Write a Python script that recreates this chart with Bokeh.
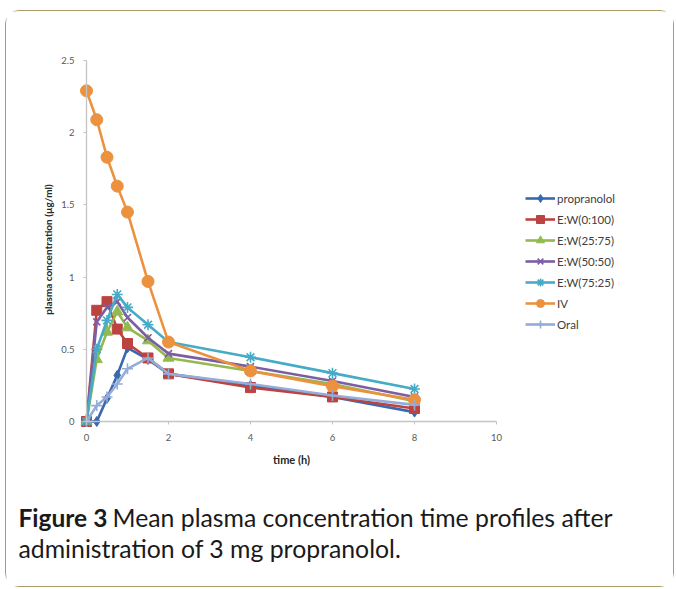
from bokeh.plotting import figure
from bokeh.models import Range1d, Legend, LegendItem, Label, FixedTicker
from bokeh.embed import file_html
from bokeh.resources import INLINE

# ---- data ----
time_h = [0, 0.25, 0.5, 0.75, 1, 1.5, 2, 4, 6, 8]
propranolol = [0, 0, 0.16, 0.32, 0.51, 0.43, 0.33, 0.25, 0.17, 0.065]
ew_0_100 = [0, 0.77, 0.83, 0.64, 0.54, 0.44, 0.33, 0.235, 0.17, 0.09]
ew_25_75 = [0, 0.43, 0.62, 0.76, 0.65, 0.56, 0.44, 0.35, 0.26, 0.14]
ew_50_50 = [0, 0.69, 0.79, 0.83, 0.72, 0.58, 0.47, 0.38, 0.28, 0.17]
ew_75_25 = [0, 0.50, 0.70, 0.88, 0.79, 0.67, 0.55, 0.445, 0.335, 0.225]
iv = [2.29, 2.09, 1.83, 1.63, 1.45, 0.97, 0.55, 0.35, 0.245, 0.15]
oral = [0, 0.11, 0.17, 0.26, 0.365, 0.44, 0.33, 0.26, 0.18, 0.115]

series_names = ["propranolol", "E:W(0:100)", "E:W(25:75)", "E:W(50:50)",
                "E:W(75:25)", "IV", "Oral"]
series_values = [propranolol, ew_0_100, ew_25_75, ew_50_50, ew_75_25, iv, oral]

x_ticks = [0, 2, 4, 6, 8, 10]
y_ticks = [0, 0.5, 1, 1.5, 2, 2.5]
y_tick_labels = ["0", "0.5", "1", "1.5", "2", "2.5"]

x_title = "time (h)"
y_title = "plasma concentration (\u00b5g/ml)"
caption_bold = "Figure 3"
caption_line1 = "Mean plasma concentration time profiles after"
caption_line2 = "administration of 3 mg propranolol."

# ---- styles ----
colors = ["#3a68b0", "#bd4340", "#93b94f", "#7b5ea3", "#45abc6", "#ec923f", "#94acd8"]
markers = ["diamond", "square", "triangle", "x", "asterisk", "circle", "cross"]
msizes = [10, 10, 11, 10, 11, 12, 11]
FONT = "Lato"

# canvas placed at page (6, 11); frame covers the whole canvas
OX, OY = 6, 11
W, H = 669, 577
PX_PER_X, PX_PER_Y = 41.0, 144.4
X0_PAGE, Y0_PAGE = 86.0, 421.0
x_start = (OX - X0_PAGE) / PX_PER_X
x_end = (OX + W - X0_PAGE) / PX_PER_X
y_end = (Y0_PAGE - OY) / PX_PER_Y
y_start = (Y0_PAGE - (OY + H)) / PX_PER_Y


def sx(page_x):
    return page_x - OX


def sy(page_y):
    return OY + H - page_y


p = figure(width=W, height=H, output_backend="svg", toolbar_location=None,
           x_range=Range1d(x_start, x_end), y_range=Range1d(y_start, y_end),
           min_border=0, background_fill_color="white", border_fill_color="white")
p.outline_line_color = None
p.grid.visible = False
p.styles = {"border": "1px solid #a99b6c", "border-radius": "14px",
            "margin-left": "5px", "margin-top": "10px"}

for ax in (p.xaxis[0], p.yaxis[0]):
    ax.fixed_location = 0
    ax.axis_line_color = "#c4c4c4"
    ax.axis_line_width = 1.3
    ax.major_tick_line_color = "#c4c4c4"
    ax.major_tick_out = 3
    ax.major_tick_in = 0
    ax.minor_tick_line_color = None
    ax.major_label_text_font = FONT
    ax.major_label_text_font_size = "9.5px"
    ax.major_label_text_color = "#595959"
    ax.major_label_standoff = 9

p.xaxis.bounds = (0, 10)
p.yaxis.bounds = (0, 2.5)
p.xaxis.ticker = FixedTicker(ticks=x_ticks)
p.yaxis.ticker = FixedTicker(ticks=y_ticks)
p.yaxis.major_label_overrides = {t: s for t, s in zip(y_ticks, y_tick_labels)}

items = []
for name, vals, col, mk, ms in zip(series_names, series_values, colors, markers, msizes):
    lr = p.line(time_h, vals, line_color=col, line_width=2.6)
    sr = p.scatter(time_h, vals, marker=mk, size=ms, fill_color=col,
                   line_color=col, line_width=1.6 if mk in ("x", "asterisk", "cross") else 1)
    items.append(LegendItem(label=name, renderers=[lr, sr]))

legend = Legend(items=items, location=(sx(525), sy(334)), glyph_width=30, glyph_height=20,
                label_height=20, spacing=1, padding=0, margin=0, label_standoff=2,
                label_text_font=FONT, label_text_font_size="11.5px",
                label_text_color="#404040", background_fill_alpha=0,
                border_line_color=None)
p.add_layout(legend, "center")

p.add_layout(Label(x=sx(291), y=sy(459), x_units="screen", y_units="screen", text=x_title,
                   text_font=FONT, text_font_size="11px", text_font_style="bold",
                   text_color="#262626", text_align="center", text_baseline="alphabetic"))
p.add_layout(Label(x=sx(47), y=sy(249), x_units="screen", y_units="screen", text=y_title,
                   angle=90, angle_units="deg",
                   text_font=FONT, text_font_size="10px", text_font_style="bold",
                   text_color="#262626", text_align="center", text_baseline="middle"))

p.add_layout(Label(x=sx(18), y=sy(517), x_units="screen", y_units="screen", text=caption_bold,
                   text_font=FONT, text_font_size="24.5px", text_font_style="bold",
                   text_color="#1a1a1a", text_baseline="alphabetic"))
p.add_layout(Label(x=sx(112), y=sy(517), x_units="screen", y_units="screen", text=caption_line1,
                   text_font=FONT, text_font_size="24.8px",
                   text_color="#1a1a1a", text_baseline="alphabetic"))
p.add_layout(Label(x=sx(18), y=sy(548), x_units="screen", y_units="screen", text=caption_line2,
                   text_font=FONT, text_font_size="24.8px",
                   text_color="#1a1a1a", text_baseline="alphabetic"))

open("out.html", "w").write(file_html(p, INLINE))
